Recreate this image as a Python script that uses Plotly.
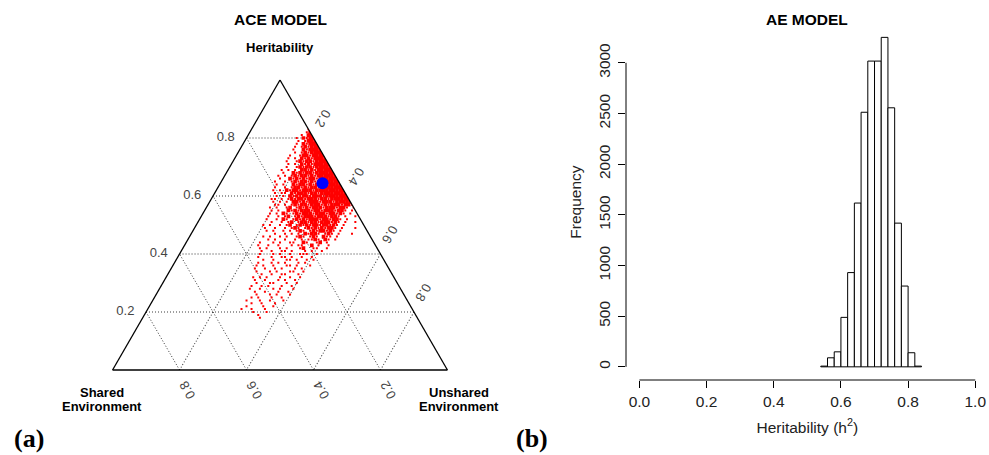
import plotly.graph_objects as go

# ---------------- (a) ACE model : ternary cloud ----------------
# Each row: (heritability A, first shared-env column C*100, occupancy pattern)
# '#' = densely filled cell, 'o' = single point, '.' = empty
CLOUD_ROWS = [
    (0.83, 0, "o"),
    (0.82, 0, "#o"),
    (0.81, 0, "##.o"),
    (0.80, 0, "##o#.o"),
    (0.79, 0, "###o.o"),
    (0.78, 0, "###o#.o"),
    (0.77, 0, "###o#o.o"),
    (0.76, 0, "####o#..o"),
    (0.75, 0, "####o#o.o"),
    (0.74, 0, "####o##o..o"),
    (0.73, 0, "####o#o#.o.o"),
    (0.72, 0, "####o##o#o..o"),
    (0.71, 0, "#####o#o#.o.o"),
    (0.70, 0, "#####o##o#o..o"),
    (0.69, 0, "#####o#o##.o.o.o"),
    (0.68, 0, "######o##o#o#..o"),
    (0.67, 0, "######o#o##o#o.o.o"),
    (0.66, 0, "######o##o#o#o#..o"),
    (0.65, 0, "#######o#o##o#o.o..o"),
    (0.64, 0, "########o#o##o#..o.o"),
    (0.63, 0, "#######o##o#o##o.o..o"),
    (0.62, 0, "#########o###o##o#.o.o"),
    (0.61, 0, "########o##o###o#.oo.o"),
    (0.60, 0, "#######o###o##o#o#.o.o"),
    (0.59, 0, "######o##o###o##o#o.o.oo"),
    (0.58, 0, "#####o###o###o#o##.o.o.o"),
    (0.57, 0, "o##o###o#o###o##o#o.o.oo"),
    (0.56, 0, "o.o##o###o###o#o#o.#o..o.o"),
    (0.55, 1, "o.o##o###o##o###o#o#..o.o"),
    (0.54, 2, "o.o#o##o###o###o#o.o#.o.o"),
    (0.53, 1, "o..o.o##o###o###o#o.#o.o..o"),
    (0.52, 4, "o.o##o##o###o#o#o.o#.o..o"),
    (0.51, 2, "o..o.o#o###o##o##o.#o.o..o"),
    (0.50, 6, "o.o#o##o##o#o#o.#o.o..o.o"),
    (0.49, 3, "o...o.o##o#o#o#o.o#o.o..o..o"),
    (0.48, 8, "o.o#o##o#o.o#o.o.o..o.o"),
    (0.47, 5, "o...o.o#o.o##o#.o.o.o..o"),
    (0.46, 10, "o.oo#.o#o.o#o..o.o..o.o"),
    (0.45, 11, "o.o#.o#oo.o.o..o..o.o"),
    (0.44, 13, ".o.#o..o#..oo..o.o...o"),
    (0.43, 14, "o..o.#..oo.o...o..o..o"),
    (0.42, 15, "o..oo..#o...o.o...o.o"),
    (0.41, 17, "o..o.o...o.oo..o..o"),
    (0.40, 19, "o..ooo..o..o.o...o"),
    (0.39, 20, ".o..o..o.oo..o...o"),
    (0.38, 21, "o.o..o.oo...o..o"),
    (0.37, 22, "..o.o...o.o.o...o"),
    (0.36, 23, "o...o.oo...o..o.o"),
    (0.35, 25, ".o.o...o.o..o..o"),
    (0.34, 26, "o..oo...o.o...o"),
    (0.33, 27, ".o...oo..o..o.."),
    (0.32, 28, "o..o..o...o.o.o"),
    (0.31, 29, ".o..o.o...o..o"),
    (0.30, 30, "o..o...oo...o."),
    (0.29, 31, ".o..o...o.o..o"),
    (0.28, 32, "o...o.o...o..o"),
    (0.27, 33, ".o..o...o..o."),
    (0.26, 34, "o...o.o...o.."),
    (0.25, 36, ".o..o...o.o"),
    (0.24, 37, "o...o..o...o"),
    (0.23, 39, ".o...o..o.."),
    (0.22, 41, "o..o....o"),
    (0.21, 42, "..o...o..o"),
    (0.20, 44, "o...o..."),
    (0.19, 45, "..o..."),
    (0.18, 47, "o."),
]

# point estimate (heritability, shared, unshared)
EST_A = [0.644]
EST_C = [0.051]
EST_E = [0.305]

TERN_TICKS = [0.2, 0.4, 0.6, 0.8]
TERN_TICKTEXT = ["0.2", "0.4", "0.6", "0.8"]

# ---------------- (b) AE model : histogram ----------------
BIN_LEFT = [0.54, 0.56, 0.58, 0.60, 0.62, 0.64, 0.66, 0.68, 0.70, 0.72,
            0.74, 0.76, 0.78, 0.80, 0.82]
BIN_WIDTH = 0.02
COUNTS = [7, 89, 148, 488, 930, 1616, 2512, 3017, 3017, 3251,
          2556, 1418, 797, 139, 7]
HIST_XTICKS = [0.0, 0.2, 0.4, 0.6, 0.8, 1.0]
HIST_XTICKTEXT = ["0.0", "0.2", "0.4", "0.6", "0.8", "1.0"]
HIST_YTICKS = [0, 500, 1000, 1500, 2000, 2500, 3000]
HIST_YTICKTEXT = ["0", "500", "1000", "1500", "2000", "2500", "3000"]

# ---------------- build point lists ----------------
big_a, big_b, big_c = [], [], []
dot_a, dot_b, dot_c = [], [], []
for a_val, start, pattern in CLOUD_ROWS:
    for k, ch in enumerate(pattern):
        b_val = (start + k) / 100.0
        c_val = 1.0 - a_val - b_val
        if ch == "#":
            big_a.append(a_val); big_b.append(b_val); big_c.append(c_val)
        elif ch == "o":
            dot_a.append(a_val); dot_b.append(b_val); dot_c.append(c_val)

SANS = "Liberation Sans, Arial, sans-serif"
SERIF = "Liberation Serif, Times New Roman, serif"
W, H = 989, 455

fig = go.Figure()
fig.add_trace(go.Scatterternary(
    a=big_a, b=big_b, c=big_c, mode="markers",
    marker=dict(symbol="square", size=3.7, color="#ff0000", line=dict(width=0)),
    hoverinfo="skip", showlegend=False))
fig.add_trace(go.Scatterternary(
    a=dot_a, b=dot_b, c=dot_c, mode="markers",
    marker=dict(symbol="square", size=2, color="#ff0000", line=dict(width=0)),
    hoverinfo="skip", showlegend=False))
fig.add_trace(go.Scatterternary(
    a=EST_A, b=EST_C, c=EST_E, mode="markers",
    marker=dict(symbol="circle", size=12, color="#0000ff", line=dict(width=0)),
    hoverinfo="skip", showlegend=False))

fig.add_trace(go.Bar(
    x=[l + BIN_WIDTH / 2 for l in BIN_LEFT], y=COUNTS, width=BIN_WIDTH,
    marker=dict(color="white", line=dict(color="black", width=1)),
    xaxis="x", yaxis="y", hoverinfo="skip", showlegend=False))

CLEAR = "rgba(0,0,0,0)"
tern_axis = dict(
    min=0, showline=True, linecolor="black", linewidth=1.3,
    showgrid=True, gridcolor="#333333", griddash="1px,2px", gridwidth=1,
    tickvals=TERN_TICKS, ticktext=TERN_TICKTEXT,
    tickfont=dict(family=SANS, size=13, color="#444444"),
    ticks="outside", tickcolor=CLEAR,
    title=dict(text=" "),
)
tfont = dict(family=SANS, size=13, color="black")

# histogram plotting region (R style 4% padding)
hx0, hx1 = 626.0 / W, 988.7 / W
hy0, hy1 = 1 - 380.0 / H, 1 - 24.2 / H


def note(text, px, py, font, xanchor="center"):
    return dict(text=text, x=px / W, y=1 - py / H, xref="paper", yref="paper",
                showarrow=False, xanchor=xanchor, yanchor="middle", font=font)


fig.update_layout(
    width=W, height=H,
    margin=dict(l=0, r=0, t=0, b=0),
    paper_bgcolor="white", plot_bgcolor="white",
    font=dict(family=SANS, color="black"),
    ternary=dict(
        sum=1, bgcolor="white",
        domain=dict(x=[112.0 / W, 448.0 / W], y=[1 - 370.0 / H, 1 - 80.0 / H]),
        aaxis=dict(tern_axis, ticklen=9),
        baxis=dict(tern_axis, tickangle=-120, ticklen=3),
        caxis=dict(tern_axis, tickangle=120, ticklen=26),
    ),
    xaxis=dict(
        domain=[hx0, hx1], range=[-0.04, 1.04], anchor="y",
        showline=False, showgrid=False, zeroline=False,
        tickvals=HIST_XTICKS, ticktext=HIST_XTICKTEXT,
        ticks="outside", ticklen=7, tickwidth=1, tickcolor="black",
        tickfont=dict(family=SANS, size=15.5, color="#222222"),
        title=dict(text="Heritability (h<sup>2</sup>)",
                   font=dict(family=SANS, size=15.5, color="#222222"), standoff=13),
    ),
    yaxis=dict(
        domain=[hy0, hy1], range=[-130, 3381], anchor="x",
        showline=False, showgrid=False, zeroline=False,
        tickvals=HIST_YTICKS, ticktext=HIST_YTICKTEXT, tickangle=-90,
        ticks="outside", ticklen=7, tickwidth=1, tickcolor="black",
        ticklabelstandoff=2,
        tickfont=dict(family=SANS, size=15.5, color="#222222"),
        title=dict(text="Frequency",
                   font=dict(family=SANS, size=15.5, color="#222222"), standoff=10),
    ),
    shapes=[
        dict(type="line", xref="x", yref="paper",
             x0=HIST_XTICKS[0], x1=HIST_XTICKS[-1], y0=hy0, y1=hy0,
             line=dict(color="black", width=1)),
        dict(type="line", xref="paper", yref="y",
             x0=hx0, x1=hx0, y0=HIST_YTICKS[0], y1=HIST_YTICKS[-1],
             line=dict(color="black", width=1)),
    ],
    annotations=[
        note("<b>ACE MODEL</b>", 280, 20, dict(family=SANS, size=15.5, color="black")),
        note("<b>AE MODEL</b>", 807, 20, dict(family=SANS, size=15.5, color="black")),
        note("<b>Heritability</b>", 280, 48, tfont),
        note("<b>Shared</b>", 102, 392.5, tfont),
        note("<b>Environment</b>", 102, 406.5, tfont),
        note("<b>Unshared</b>", 459, 392.5, tfont),
        note("<b>Environment</b>", 459, 406.5, tfont),
        note("<b>(a)</b>", 12, 438, dict(family=SERIF, size=26, color="black"), "left"),
        note("<b>(b)</b>", 514, 438, dict(family=SERIF, size=26, color="black"), "left"),
    ],
)

fig.write_html("out.html", config={"displayModeBar": False},
               post_script="document.body.style.margin='0px';")
